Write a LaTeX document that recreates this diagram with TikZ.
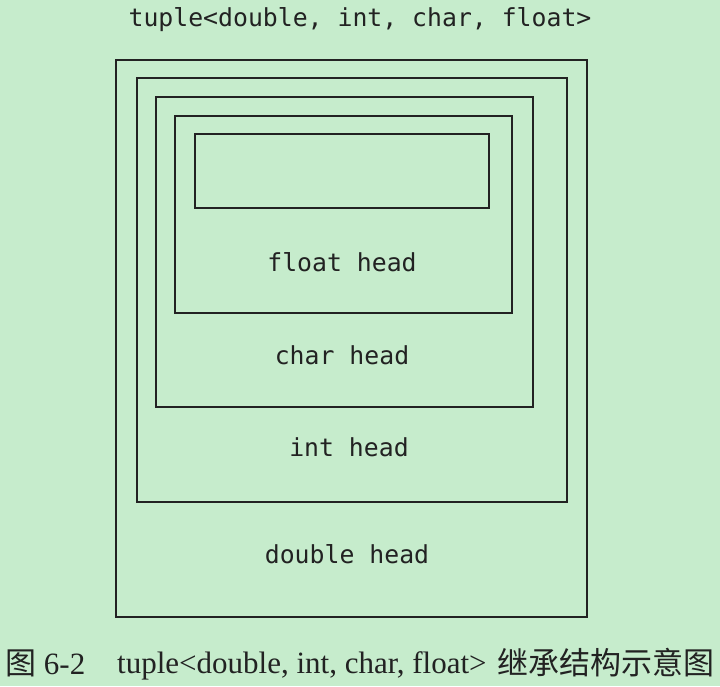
\documentclass[tikz,border=0pt]{standalone}
\usepackage{fontspec}
\setmainfont{Liberation Serif}
\newfontfamily\monof{DejaVu Sans Mono}
\newfontfamily\cjk{Noto Sans CJK SC}
\definecolor{bggreen}{RGB}{198,236,204}
\definecolor{ink}{RGB}{34,34,34}
\begin{document}
\begin{tikzpicture}[x=1pt,y=-1pt,
  box/.style={draw=ink, line width=1.6pt, rectangle, inner sep=0pt},
  lbl/.style={font=\monof\fontsize{24.8}{26}\selectfont, text=ink, inner sep=0pt},
  captxt/.style={font=\fontsize{31}{34}\selectfont, text=ink, inner sep=0pt}]
\fill[bggreen] (0,0) rectangle (720,686);
\useasboundingbox (0,0) rectangle (720,686);
\node[lbl] (title) at (360,20) {tuple<double, int, char, float>};
\node[box, minimum width=471pt, minimum height=557pt] (b1) at (351.5,338.5) {};
\node[box, minimum width=430pt, minimum height=424pt] (b2) at (352,290) {};
\node[box, minimum width=377pt, minimum height=310pt] (b3) at (344.5,252) {};
\node[box, minimum width=337pt, minimum height=197pt] (b4) at (343.5,214.5) {};
\node[box, minimum width=294pt, minimum height=74pt] (b5) at (342,171) {};
\node[lbl] (f) at (342,262) {float head};
\node[lbl] (c) at (342,355) {char head};
\node[lbl] (i) at (349,447) {int head};
\node[lbl] (d) at (347,554) {double head};
\node[captxt, anchor=base west] (c1) at (5,674) {{\cjk 图} 6-2};
\node[captxt, anchor=base west] (c2) at (117,673) {tuple<double, int, char, float>};
\node[captxt, anchor=base east] (c3) at (715,674) {\cjk 继承结构示意图};
\end{tikzpicture}
\end{document}
